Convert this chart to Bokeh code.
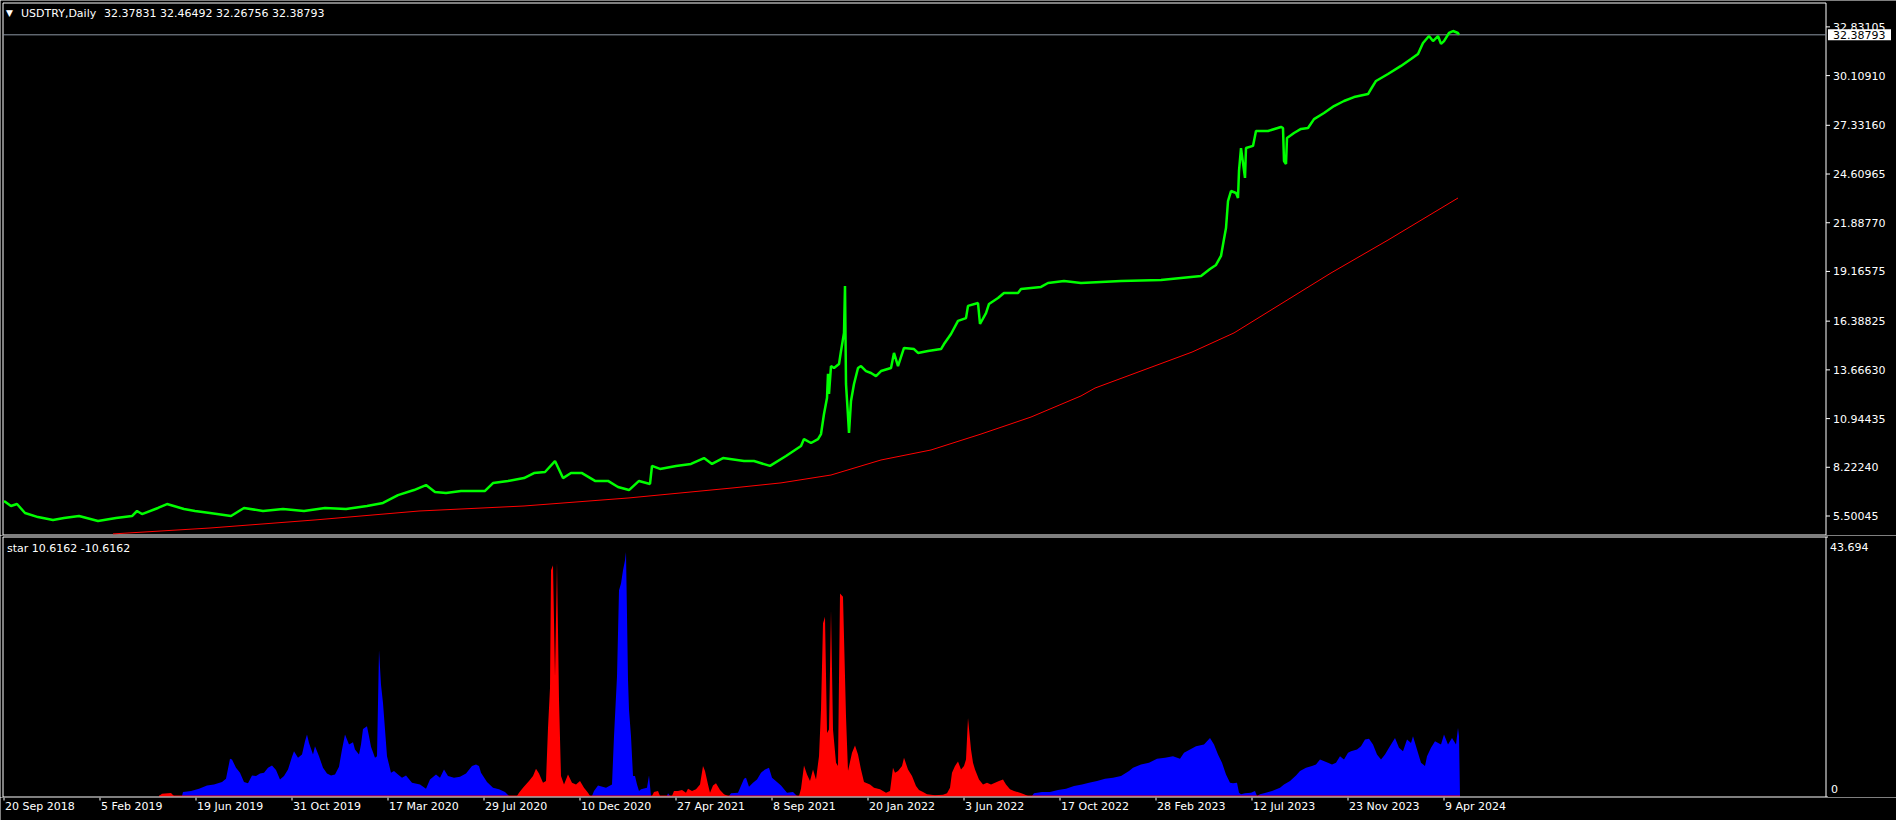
from bokeh.plotting import figure
from bokeh.models import Range1d, Label
from bokeh.layouts import column
from bokeh.embed import file_html
from bokeh.resources import INLINE
from bokeh.core.properties import value

FONT = "DejaVu Sans"

# ---------------- data ----------------
symbol = "USDTRY,Daily"
ohlc = ["32.37831", "32.46492", "32.26756", "32.38793"]
last_price = 32.38793
price_ticks = [5.50045, 8.22240, 10.94435, 13.66630, 16.38825, 19.16575,
               21.88770, 24.60965, 27.33160, 30.10910, 32.83105]
price_lo, price_hi = 4.439, 34.166
bars_visible = (-1, 1822)

date_idx = [0, 96, 192, 288, 384, 480, 576, 672, 768, 864, 960, 1056, 1152, 1248, 1344, 1440]
date_labels = ["20 Sep 2018", "5 Feb 2019", "19 Jun 2019", "31 Oct 2019", "17 Mar 2020",
               "29 Jul 2020", "10 Dec 2020", "27 Apr 2021", "8 Sep 2021", "20 Jan 2022",
               "3 Jun 2022", "17 Oct 2022", "28 Feb 2023", "12 Jul 2023", "23 Nov 2023",
               "9 Apr 2024"]

close_idx = [0, 7, 13, 21, 34, 49, 60, 75, 94, 112, 128, 133, 138, 154, 163, 180, 191, 206,
             227, 240, 259, 279, 300, 321, 342, 363, 379, 394, 410, 422, 431, 442, 457, 481,
             489, 504, 520, 530, 541, 551, 559, 567, 578, 591, 604, 614, 625, 635, 646, 648,
             656, 672, 687, 700, 708, 719, 740, 750, 766, 782, 797, 800, 807, 814, 817, 820,
             823, 824, 825, 827, 830, 835, 837, 840, 841, 842, 844, 845, 847, 850, 854, 857,
             862, 867, 872, 877, 887, 890, 894, 900, 910, 914, 924, 937, 940, 947, 954, 962,
             964, 974, 976, 982, 985, 994, 1000, 1014, 1017, 1037, 1044, 1060, 1077, 1117,
             1157, 1197, 1206, 1212, 1217, 1220, 1222, 1224, 1227, 1232, 1234, 1235, 1237,
             1241, 1242, 1249, 1252, 1264, 1277, 1279, 1280, 1282, 1283, 1290, 1297, 1304,
             1310, 1320, 1330, 1340, 1350, 1364, 1367, 1372, 1384, 1397, 1407, 1414, 1419,
             1425, 1429, 1434, 1437, 1440, 1445, 1449, 1454, 1455]
close_val = [6.34, 6.06, 6.17, 5.67, 5.44, 5.28, 5.39, 5.50, 5.22, 5.39, 5.50, 5.78, 5.61,
             5.95, 6.17, 5.89, 5.78, 5.67, 5.50, 5.95, 5.78, 5.89, 5.78, 5.95, 5.89, 6.06,
             6.23, 6.67, 6.95, 7.23, 6.84, 6.79, 6.90, 6.90, 7.34, 7.46, 7.62, 7.90, 7.96,
             8.57, 7.62, 7.90, 7.90, 7.46, 7.46, 7.12, 6.95, 7.46, 7.29, 8.30, 8.13, 8.30,
             8.41, 8.74, 8.41, 8.74, 8.57, 8.57, 8.30, 8.85, 9.41, 9.80, 9.58, 9.80, 10.08,
             11.20, 12.09, 13.44, 12.32, 13.88, 13.77, 13.99, 14.72, 15.73, 18.35, 12.88,
             11.09, 10.14, 11.93, 12.88, 13.77, 13.88, 13.60, 13.49, 13.32, 13.60, 13.77,
             14.61, 13.88, 14.89, 14.83, 14.61, 14.72, 14.83, 15.11, 15.67, 16.40, 16.56,
             17.24, 17.40, 16.23, 16.84, 17.35, 17.68, 17.96, 17.96, 18.19, 18.30, 18.52,
             18.63, 18.52, 18.63, 18.69, 18.91, 19.30, 19.53, 20.03, 20.98, 21.59, 23.10,
             23.66, 23.55, 23.27, 24.78, 26.06, 24.39, 26.06, 26.18, 27.01, 27.01, 27.24,
             27.18, 25.34, 25.17, 26.62, 26.90, 27.13, 27.18, 27.68, 28.02, 28.41, 28.69,
             28.91, 29.08, 29.36, 29.81, 30.20, 30.65, 31.04, 31.32, 31.93, 32.32, 32.04,
             32.32, 31.88, 32.04, 32.49, 32.60, 32.49, 32.39]

ma_idx = [109, 206, 311, 415, 520, 625, 729, 777, 827, 877, 927, 977, 1027, 1077, 1091,
          1188, 1230, 1327, 1384, 1454]
ma_val = [4.50, 4.83, 5.28, 5.78, 6.06, 6.51, 7.07, 7.35, 7.79, 8.63, 9.19, 10.08, 11.03,
          12.21, 12.65, 14.66, 15.73, 19.08, 20.92, 23.27]

ind_name = "star 10.6162 -10.6162"
ind_max = 43.694
# signed: positive = up buffer (blue), negative = down buffer (red)
hist_idx = [155, 158, 167, 170, 178, 179, 187, 195, 203, 210, 218, 222, 226, 228, 232, 236,
            240, 244, 248, 252, 256, 260, 264, 268, 272, 276, 280, 284, 288, 290, 294, 298,
            301, 303, 305, 309, 311, 315, 319, 323, 327, 331, 335, 338, 341, 345, 349, 351,
            355, 357, 359, 363, 365, 367, 371, 373, 375, 377, 379, 381, 383, 387, 390, 394,
            398, 402, 408, 416, 422, 426, 432, 436, 440, 444, 450, 456, 462, 468, 472, 475,
            477, 483, 489, 495, 501, 505, 513, 515, 519, 525, 529, 532, 535, 539, 542, 544,
            546, 547, 549, 551, 553, 555, 557, 560, 564, 568, 572, 576, 580, 584, 586, 588,
            590, 594, 602, 608, 610, 613, 615, 617, 619, 621, 622, 624, 625, 627, 629, 631,
            633, 635, 637, 643, 645, 647, 648, 650, 654, 656, 663, 664, 666, 668, 670, 674,
            678, 682, 684, 688, 692, 696, 699, 701, 704, 706, 709, 712, 716, 720, 724, 725,
            727, 734, 740, 742, 745, 749, 753, 757, 761, 765, 768, 773, 777, 783, 789, 793,
            795, 797, 800, 803, 806, 809, 812, 815, 817, 819, 821, 823, 825, 827, 829, 832,
            834, 836, 839, 842, 844, 848, 851, 854, 857, 860, 866, 870, 876, 882, 886, 889,
            891, 894, 898, 900, 904, 908, 912, 915, 919, 923, 931, 939, 943, 946, 948, 951,
            954, 957, 960, 962, 964, 967, 969, 971, 975, 979, 983, 987, 991, 995, 999, 1002,
            1006, 1010, 1016, 1020, 1024, 1028, 1030, 1038, 1046, 1054, 1062, 1070, 1078,
            1085, 1093, 1101, 1109, 1117, 1125, 1129, 1137, 1145, 1153, 1161, 1169, 1176,
            1180, 1186, 1192, 1200, 1206, 1210, 1214, 1218, 1222, 1226, 1229, 1233, 1235,
            1237, 1241, 1247, 1251, 1253, 1256, 1260, 1268, 1276, 1280, 1286, 1292, 1296,
            1302, 1308, 1312, 1316, 1324, 1328, 1332, 1336, 1340, 1344, 1347, 1353, 1357,
            1361, 1365, 1369, 1373, 1377, 1381, 1385, 1391, 1395, 1399, 1403, 1407, 1409,
            1413, 1417, 1421, 1423, 1427, 1431, 1437, 1440, 1444, 1448, 1452, 1454, 1455, 1456]
hist_val = [0, -0.40, -0.50, 0, 0, 0.67, 0.84, 1.23, 1.79, 1.96, 2.35, 2.91, 6.27, 6.16, 4.76,
            3.92, 2.35, 2.13, 3.47, 3.36, 3.81, 3.92, 4.76, 5.15, 4.37, 2.80, 3.36, 4.48, 6.61,
            7.56, 6.44, 7.00, 9.24, 10.36, 8.96, 7.00, 8.40, 6.72, 4.76, 3.81, 3.47, 3.64,
            4.93, 7.84, 10.36, 8.68, 9.07, 7.84, 7.00, 8.68, 11.32, 11.76, 10.08, 8.29, 6.44,
            6.72, 24.65, 18.77, 15.69, 11.20, 6.72, 3.92, 4.20, 3.64, 3.08, 3.47, 2.24, 1.96,
            1.23, 2.80, 3.64, 3.08, 4.48, 3.36, 3.08, 3.25, 3.81, 5.04, 5.32, 5.04, 3.92,
            2.35, 1.40, 1.12, 0.67, 0, 0, -0.56, -1.40, -2.52, -3.36, -4.59, -3.81, -2.24,
            -2.52, -11.48, -18.21, -38.09, -38.93, -20.17, -39.49, -16.25, -3.36, -1.96,
            -3.64, -2.24, -1.96, -2.52, -1.40, -0.56, 0, 0, 0.84, 1.79, 1.40, 1.96, 10.08,
            20.17, 34.73, 35.85, 38.09, 39.77, 41.17, 19.61, 14.57, 10.08, 3.36, 3.36, 1.96,
            0.84, 1.12, 1.40, 3.47, 0, 0, -0.67, -0.84, 0, 0, 0.45, 0, 0, -0.84, -0.84, -1.01,
            -0.56, -1.23, -0.84, -1.12, -1.96, -5.04, -4.20, -1.96, -0.56, -1.79, -2.13,
            -1.01, -0.28, 0, 0, 0.45, 0.56, 2.91, 3.08, 1.57, 2.24, 2.80, 3.92, 4.48, 4.76,
            3.08, 2.35, 1.79, 0.56, 0.67, 0, 0, -1.23, -5.15, -3.64, -2.52, -4.48, -2.80,
            -6.72, -14.57, -29.13, -30.25, -10.64, -11.20, -31.37, -11.20, -5.60, -5.04,
            -34.17, -33.61, -13.44, -4.20, -7.28, -8.52, -7.00, -4.48, -2.35, -1.96, -1.40,
            -1.12, -0.56, -0.84, -4.76, -3.92, -4.20, -5.04, -6.44, -4.48, -3.36, -1.68,
            -1.01, -0.67, -0.28, -0.11, -0.22, -0.45, -1.40, -3.92, -5.04, -5.83, -4.48,
            -5.04, -6.16, -13.16, -7.84, -5.60, -4.48, -2.80, -1.96, -2.24, -1.96, -2.24,
            -2.52, -2.80, -1.96, -1.12, -0.84, -0.56, -0.28, 0, 0, 0.45, 0.67, 0.67, 1.01,
            1.23, 1.68, 1.96, 2.24, 2.52, 2.91, 3.08, 3.36, 4.20, 4.76, 5.32, 5.60, 6.27,
            6.44, 6.72, 6.27, 7.28, 7.84, 8.40, 8.68, 9.80, 8.68, 7.00, 5.60, 3.64, 2.24,
            2.13, 2.24, 0.56, 0.28, 0.45, 0.56, 0.84, 0, 0.28, 0.45, 0.84, 1.40, 1.96, 2.52,
            3.47, 4.20, 4.76, 5.04, 5.32, 6.16, 5.60, 5.32, 5.60, 6.72, 6.16, 7.28, 7.56,
            7.84, 8.40, 9.52, 9.64, 8.68, 7.00, 6.16, 7.00, 8.12, 9.80, 8.12, 7.56, 9.52,
            8.96, 10.08, 7.84, 5.60, 5.04, 6.72, 8.12, 9.24, 8.68, 10.36, 8.68, 9.80, 8.68,
            11.48, 10.08, 0]

# ---------------- layout / style constants ----------------
BG = "black"
FG = "white"
GREEN = "#00FF00"
RED = "#FF0000"
BLUE = "#0000FF"
W = 1896
H1, H2, H3 = 535, 262, 23
PANEL_LEFT_PX = 2.5          # pixel centre of the panel's left border column
TICK_LEN = 4                 # pixels (1 bar = 1 pixel)
FS = "11px"

# one bar per pixel, the left border sits on bar bars_visible[0]
x0 = bars_visible[0] - PANEL_LEFT_PX
xr = Range1d(x0, x0 + W)
x_right = bars_visible[1]

# main panel: border rows at 2 and 534 (pixel centres 2.5 / 534.5)
u1 = (price_hi - price_lo) / (534.5 - 2.5)
yr1 = Range1d(price_lo - (H1 - 534.5) * u1, price_hi + 2.5 * u1)

# indicator panel (canvas starts at row 535): borders at local 1.5 / 261.5, zero at 260.5
u2 = ind_max / (260.5 - 1.5)
ind_bottom = -1.0 * u2
yr2 = Range1d(-(H2 - 260.5) * u2, ind_max + 1.5 * u2)


def blank_fig(height, y_range):
    p = figure(width=W, height=height, x_range=xr, y_range=y_range,
               output_backend="svg", toolbar_location=None,
               x_axis_location=None, y_axis_location=None,
               background_fill_color=BG, border_fill_color=BG,
               min_border_left=0, min_border_right=0,
               min_border_top=0, min_border_bottom=0)
    p.grid.visible = False
    p.outline_line_color = None
    return p


def txt(p, x, y, text, xo=0, yo=0, color=FG, size=FS):
    p.add_layout(Label(x=x, y=y, x_offset=xo, y_offset=yo, text=text, text_color=color,
                       text_font=FONT, text_font_size=size, text_baseline="middle"))


# ---------------- main price panel ----------------
p1 = blank_fig(H1, yr1)
p1.quad(left=bars_visible[0], right=x_right, bottom=price_lo, top=price_hi,
        fill_color=None, line_color=FG, line_width=1)
p1.segment(x0=bars_visible[0], x1=x_right, y0=last_price, y1=last_price,
           line_color="#8C96A3", line_width=1)
p1.line(ma_idx, ma_val, line_color=RED, line_width=1)
p1.line(close_idx, close_val, line_color=GREEN, line_width=2.5)

# right price scale
p1.segment(x0=[x_right] * len(price_ticks), x1=[x_right + TICK_LEN] * len(price_ticks),
           y0=price_ticks, y1=price_ticks, line_color=FG, line_width=1)
p1.text(x=[x_right] * len(price_ticks), y=price_ticks,
        text=[f"{t:.5f}" for t in price_ticks], x_offset=7, text_color=FG,
        text_font=value(FONT), text_font_size=FS, text_baseline="middle")

# current price marker
p1.quad(left=x_right + 2, right=x_right + 65, bottom=last_price - 5.5 * u1,
        top=last_price + 5.5 * u1, fill_color="white", line_color=None)
txt(p1, x_right, last_price, ohlc[-1], xo=7, color="black")

# header
txt(p1, bars_visible[0], price_hi, "▼", xo=3, yo=-10, size="9px")
txt(p1, bars_visible[0], price_hi, symbol, xo=18, yo=-10)
txt(p1, bars_visible[0], price_hi, " ".join(ohlc), xo=101, yo=-10)

# ---------------- indicator panel ----------------
p2 = blank_fig(H2, yr2)
up_vals = [max(v, 0) for v in hist_val]
dn_vals = [max(-v, 0) for v in hist_val]
p2.varea(x=hist_idx, y1=0, y2=up_vals, fill_color=BLUE)
p2.varea(x=hist_idx, y1=0, y2=dn_vals, fill_color=RED)
p2.line([hist_idx[0], hist_idx[-1]], [0, 0], line_color=RED, line_width=1)
p2.quad(left=bars_visible[0], right=x_right, bottom=ind_bottom, top=ind_max,
        fill_color=None, line_color=FG, line_width=1)
p2.segment(x0=[x_right, x_right], x1=[x_right + 2, x_right + 2],
           y0=[ind_max, ind_bottom], y1=[ind_max, ind_bottom], line_color=FG)

txt(p2, bars_visible[0], ind_max, ind_name, xo=4, yo=-11)
txt(p2, x_right, ind_max, f"{ind_max:.3f}", xo=4, yo=-10)
txt(p2, x_right, 0, "0", xo=5, yo=7)

# ---------------- date strip ----------------
p3 = blank_fig(H3, Range1d(H3, 0))
p3.segment(x0=date_idx, y0=0, x1=date_idx, y1=3, line_color=FG, line_width=1)
p3.text(x=date_idx, y=9, text=date_labels, x_offset=1, text_color=FG,
        text_font=value(FONT), text_font_size=FS, text_align="left",
        text_baseline="middle")

layout = column(p1, p2, p3, spacing=0,
                styles={"position": "absolute", "left": "0px", "top": "0px"})

open("out.html", "w").write(file_html(layout, INLINE))
